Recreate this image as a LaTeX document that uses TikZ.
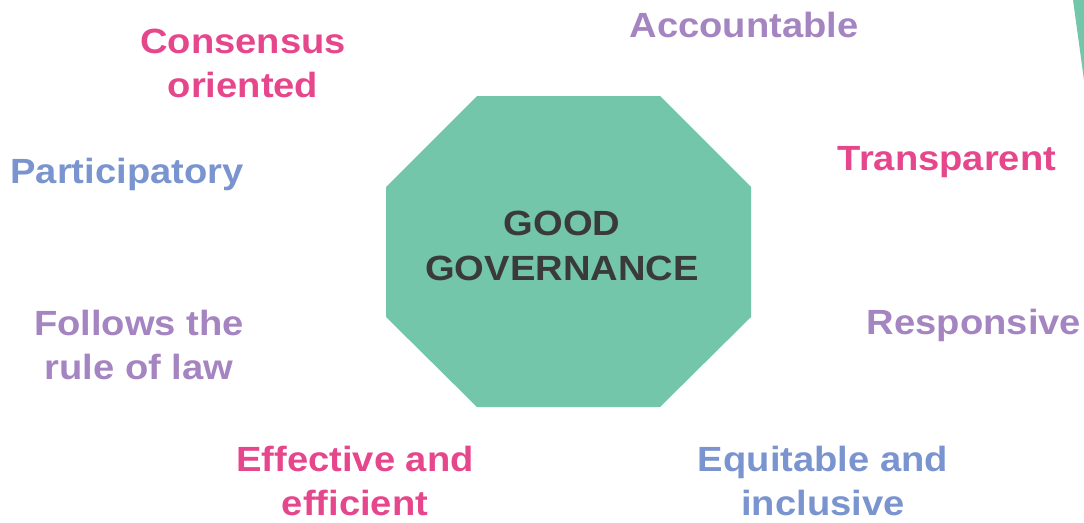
\documentclass[tikz,border=0pt]{standalone}
\usepackage{fontspec}
\setmainfont{Liberation Sans}[FakeStretch=1.09]
\definecolor{gg}{HTML}{73C6A9}
\definecolor{pk}{HTML}{E6478C}
\definecolor{pu}{HTML}{A585C1}
\definecolor{bl}{HTML}{7A94CF}
\definecolor{dk}{HTML}{3A3A3A}
\begin{document}
\begin{tikzpicture}[x=1pt,y=-1pt,
  lbl/.style={font=\fontsize{35}{44}\selectfont\bfseries, align=center, inner sep=0pt, anchor=base},
  pinklbl/.style={lbl, text=pk},
  purplbl/.style={lbl, text=pu},
  bluelbl/.style={lbl, text=bl}]
\useasboundingbox (0,0) rectangle (1084,522);
\fill[gg] (386,187) -- (477,96) -- (660,96) -- (751,187) -- (751,317) -- (660,407) -- (477,407) -- (386,317) -- cycle;
\fill[gg] (1073,0) -- (1084,0) -- (1084,80) -- cycle;
\node[lbl, text=dk, font=\fontsize{35}{45}\selectfont\bfseries] (center) at (562,280) {GOOD\\GOVERNANCE};
\node[pinklbl] (cons) at (243,97) {Consensus\\oriented};
\node[purplbl] (acc) at (744,37) {Accountable};
\node[pinklbl] (trans) at (947,170) {Transparent};
\node[bluelbl] (part) at (127,183) {Participatory};
\node[purplbl] (rule) at (139,379) {Follows the\\rule of law};
\node[purplbl] (resp) at (974,334) {Responsive};
\node[pinklbl] (eff) at (355,515) {Effective and\\efficient};
\node[bluelbl] (equ) at (823,515) {Equitable and\\inclusive};
\end{tikzpicture}
\end{document}
